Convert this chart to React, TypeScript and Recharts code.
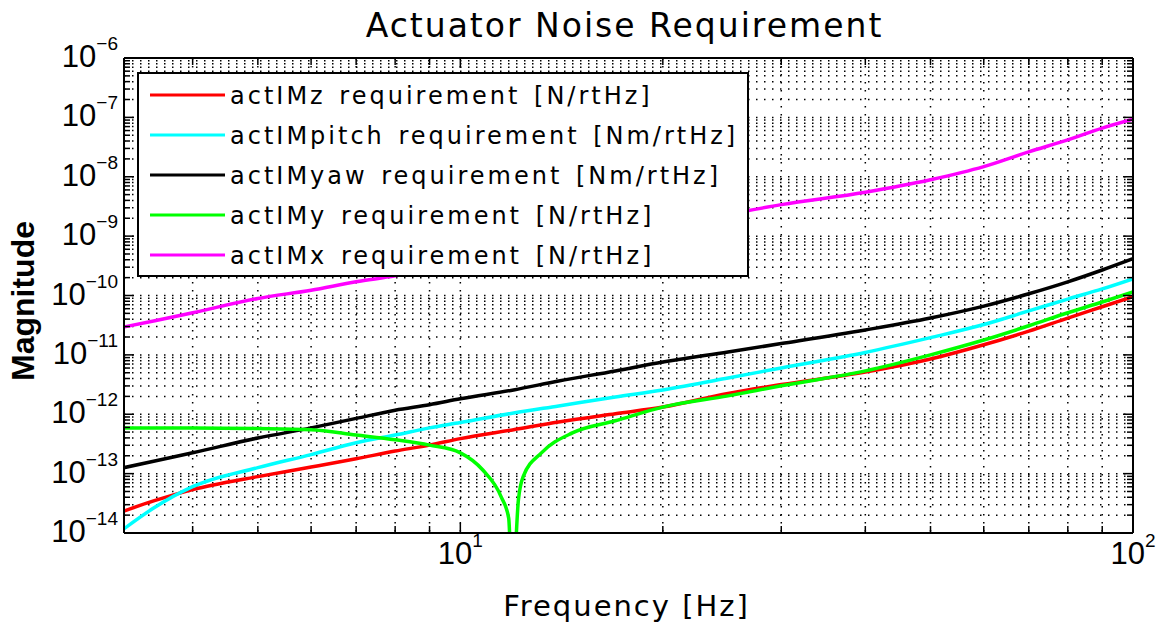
import React from 'react';
import { LineChart, Line, XAxis, YAxis, CartesianGrid, Legend } from 'recharts';

// frequency grid [Hz] shared by the smooth requirement curves
const freq = [3.16, 3.5, 4, 5, 6, 7, 8, 9, 10, 12, 14, 17, 20, 25, 30, 40, 50, 60, 70, 80, 90, 100];

const actIMz = [2.34e-14, 3.47e-14, 5.37e-14, 8.91e-14, 1.29e-13, 1.78e-13, 2.4e-13, 3.02e-13, 3.89e-13, 5.5e-13, 7.41e-13, 1.02e-12, 1.32e-12, 2.24e-12, 3.16e-12, 5.13e-12, 8.51e-12, 1.48e-11, 2.51e-11, 4.17e-11, 6.46e-11, 9.55e-11];
const actIMpitch = [1.17e-14, 2.63e-14, 6.03e-14, 1.26e-13, 2.09e-13, 3.31e-13, 4.47e-13, 5.89e-13, 7.24e-13, 1.05e-12, 1.38e-12, 1.95e-12, 2.57e-12, 4.07e-12, 6.03e-12, 1.1e-11, 1.95e-11, 3.24e-11, 5.5e-11, 8.71e-11, 1.29e-10, 1.91e-10];
const actIMyaw = [1.26e-13, 1.62e-13, 2.24e-13, 3.98e-13, 5.89e-13, 8.51e-13, 1.17e-12, 1.45e-12, 1.82e-12, 2.57e-12, 3.63e-12, 5.37e-12, 7.59e-12, 1.12e-11, 1.55e-11, 2.63e-11, 4.17e-11, 6.61e-11, 1.07e-10, 1.7e-10, 2.69e-10, 4.17e-10];
const actIMx = [2.95e-11, 3.72e-11, 5.13e-11, 8.91e-11, 1.23e-10, 1.7e-10, 2.14e-10, 2.75e-10, 3.47e-10, 5.01e-10, 6.92e-10, 1.05e-9, 1.48e-9, 2.34e-9, 3.39e-9, 5.5e-9, 8.91e-9, 1.48e-8, 2.63e-8, 4.17e-8, 6.61e-8, 9.33e-8];

// actIMy has a notch near 12 Hz, so it gets its own finer grid
const freqY = [3.16, 4, 5, 6, 7, 8, 9, 10, 10.8, 11.5, 11.8, 11.95, 12.2, 12.4, 13.2, 14.7, 17, 20, 25, 30, 40, 50, 60, 70, 80, 90, 100];
const actIMy = [5.89e-13, 5.89e-13, 5.75e-13, 5.5e-13, 4.47e-13, 3.72e-13, 3.02e-13, 2.24e-13, 1.15e-13, 4.07e-14, 1.78e-14, 1e-15, 3.63e-14, 8.91e-14, 2.24e-13, 4.9e-13, 7.76e-13, 1.32e-12, 2.04e-12, 3.02e-12, 5.37e-12, 1e-11, 1.78e-11, 3.09e-11, 5.13e-11, 7.76e-11, 1.15e-10];

const xTicks = [4, 5, 6, 7, 8, 9, 10, 20, 30, 40, 50, 60, 70, 80, 90, 100];
const yDecades = [-14, -13, -12, -11, -10, -9, -8, -7];
const yMantissas = [1, 2, 3, 4, 5, 6, 7, 8, 9];
const yTicks = [...yDecades.flatMap((e) => yMantissas.map((m) => m * Math.pow(10, e))), 1e-6];

const seriesNames = [
  'actIMz requirement [N/rtHz]',
  'actIMpitch requirement [Nm/rtHz]',
  'actIMyaw requirement [Nm/rtHz]',
  'actIMy requirement [N/rtHz]',
  'actIMx requirement [N/rtHz]',
];

const mainData = freq.map((f, i) => ({ f, z: actIMz[i], pitch: actIMpitch[i], yaw: actIMyaw[i], x: actIMx[i] }));
const yData = freqY.map((f, i) => ({ f, y: actIMy[i] }));

const TEXT_FONT = '"DejaVu Sans", sans-serif';
const TICK_FONT = '"Liberation Sans", Arial, sans-serif';
const MINUS = '\u2212';

const isDecade = (v: number) => Math.abs(Math.log10(v) - Math.round(Math.log10(v))) < 1e-6;

const expText = (v: number) => {
  const e = Math.round(Math.log10(v));
  return e < 0 ? MINUS + Math.abs(e) : String(e);
};

// MATLAB style ticks: drawn inward, decades longer and labelled
const LeftTick = ({ x, y, payload }: any) => {
  const v = payload.value;
  const major = isDecade(v);
  return (
    <g>
      <line x1={x} y1={y} x2={x + (major ? 10 : 6)} y2={y} stroke="#000" strokeWidth={1.5} />
      {major && (
        <text x={x - 6} y={y + 9} textAnchor="end" fontFamily={TICK_FONT} fontSize={31} fill="#000">
          10
          <tspan dy={-17} fontSize={19}>{expText(v)}</tspan>
        </text>
      )}
    </g>
  );
};

const RightTick = ({ x, y, payload }: any) => {
  const major = isDecade(payload.value);
  return <line x1={x} y1={y} x2={x - (major ? 10 : 6)} y2={y} stroke="#000" strokeWidth={1.5} />;
};

const BottomTick = ({ x, y, payload }: any) => {
  const v = payload.value;
  const major = isDecade(v);
  return (
    <g>
      <line x1={x} y1={y} x2={x} y2={y - (major ? 10 : 7)} stroke="#000" strokeWidth={1.5} />
      {major && (
        <text x={x} y={y + 31} textAnchor="middle" fontFamily={TICK_FONT} fontSize={31} fill="#000">
          10
          <tspan dy={-17} fontSize={19}>{expText(v)}</tspan>
        </text>
      )}
    </g>
  );
};

const TopTick = ({ x, y, payload }: any) => {
  const major = isDecade(payload.value);
  return <line x1={x} y1={y} x2={x} y2={y + (major ? 10 : 7)} stroke="#000" strokeWidth={1.5} />;
};

const ChartTitle = ({ viewBox }: any) => (
  <text x={viewBox.x + viewBox.width / 2 - 4} y={viewBox.y - 20} textAnchor="middle"
    fontFamily={TEXT_FONT} fontSize={33} letterSpacing={2} fill="#000">
    Actuator Noise Requirement
  </text>
);

const XLabel = ({ viewBox }: any) => (
  <text x={viewBox.x + viewBox.width / 2 - 2} y={viewBox.y + 83} textAnchor="middle"
    fontFamily={TEXT_FONT} fontSize={29} letterSpacing={2} fill="#000">
    Frequency [Hz]
  </text>
);

const YLabel = ({ viewBox }: any) => {
  const cx = viewBox.x + 34;
  const cy = 301;
  return (
    <text x={cx} y={cy} transform={`rotate(-90 ${cx} ${cy})`} textAnchor="middle"
      fontFamily={TICK_FONT} fontWeight="bold" fontSize={32} fill="#000">
      Magnitude
    </text>
  );
};

const LegendBox = ({ payload }: any) => {
  const entries = [...(payload || [])].sort(
    (a: any, b: any) => seriesNames.indexOf(a.value) - seriesNames.indexOf(b.value)
  );
  return (
    <div style={{ width: 612, height: 205, border: '2px solid #000', background: '#fff', boxSizing: 'border-box', paddingTop: 2 }}>
      {entries.map((entry: any) => (
        <div key={entry.value} style={{ display: 'flex', alignItems: 'center', height: 40 }}>
          <svg width={91} height={40} style={{ flex: 'none' }}>
            <line x1={11} x2={86} y1={19} y2={19} stroke={entry.color} strokeWidth={3} />
          </svg>
          <span style={{ fontFamily: TEXT_FONT, fontSize: 24, letterSpacing: 3, wordSpacing: 3, color: '#000', whiteSpace: 'nowrap' }}>
            {entry.value}
          </span>
        </div>
      ))}
    </div>
  );
};

export default function App() {
  return (
    <div style={{ position: 'absolute', left: 0, top: 0, background: '#fff' }}>
      <LineChart width={1160} height={625} data={mainData} margin={{ top: 57, right: 26, bottom: 0, left: 0 }}>
        <CartesianGrid xAxisId="b" yAxisId="l" stroke="#000" strokeWidth={1.5} strokeDasharray="1.5 6.5" />
        <XAxis xAxisId="b" dataKey="f" type="number" scale="log" domain={[3.1623, 100]} allowDataOverflow
          ticks={xTicks} interval={0} height={92} tickSize={0} tickMargin={0} tickLine={false}
          axisLine={{ stroke: '#000', strokeWidth: 2 }} tick={<BottomTick />} label={<XLabel />} />
        <XAxis xAxisId="t" orientation="top" dataKey="f" type="number" scale="log" domain={[3.1623, 100]} allowDataOverflow
          ticks={xTicks} interval={0} height={1} tickSize={0} tickMargin={0} tickLine={false}
          axisLine={{ stroke: '#000', strokeWidth: 2 }} tick={<TopTick />} label={<ChartTitle />} />
        <YAxis yAxisId="l" type="number" scale="log" domain={[1e-14, 1e-6]} allowDataOverflow
          ticks={yTicks} interval={0} width={124} tickSize={0} tickMargin={0} tickLine={false}
          axisLine={{ stroke: '#000', strokeWidth: 2 }} tick={<LeftTick />} label={<YLabel />} />
        <YAxis yAxisId="r" orientation="right" type="number" scale="log" domain={[1e-14, 1e-6]} allowDataOverflow
          ticks={yTicks} interval={0} width={1} tickSize={0} tickMargin={0} tickLine={false}
          axisLine={{ stroke: '#000', strokeWidth: 2 }} tick={<RightTick />} />
        <Legend layout="horizontal" verticalAlign="middle" align="center" content={<LegendBox />}
          wrapperStyle={{ left: 137, top: 72, width: 612, height: 205 }} />
        <Line xAxisId="b" yAxisId="l" type="monotone" name={seriesNames[0]} dataKey="z" stroke="#ff0000" strokeWidth={3.5} dot={false} isAnimationActive={false} />
        <Line xAxisId="b" yAxisId="l" type="monotone" name={seriesNames[1]} dataKey="pitch" stroke="#00ffff" strokeWidth={3.5} dot={false} isAnimationActive={false} />
        <Line xAxisId="b" yAxisId="l" type="monotone" name={seriesNames[2]} dataKey="yaw" stroke="#000000" strokeWidth={3.5} dot={false} isAnimationActive={false} />
        <Line xAxisId="b" yAxisId="l" type="monotone" name={seriesNames[3]} data={yData} dataKey="y" stroke="#00ff00" strokeWidth={3.5} dot={false} isAnimationActive={false} />
        <Line xAxisId="b" yAxisId="l" type="monotone" name={seriesNames[4]} dataKey="x" stroke="#ff00ff" strokeWidth={3.5} dot={false} isAnimationActive={false} />
      </LineChart>
    </div>
  );
}
